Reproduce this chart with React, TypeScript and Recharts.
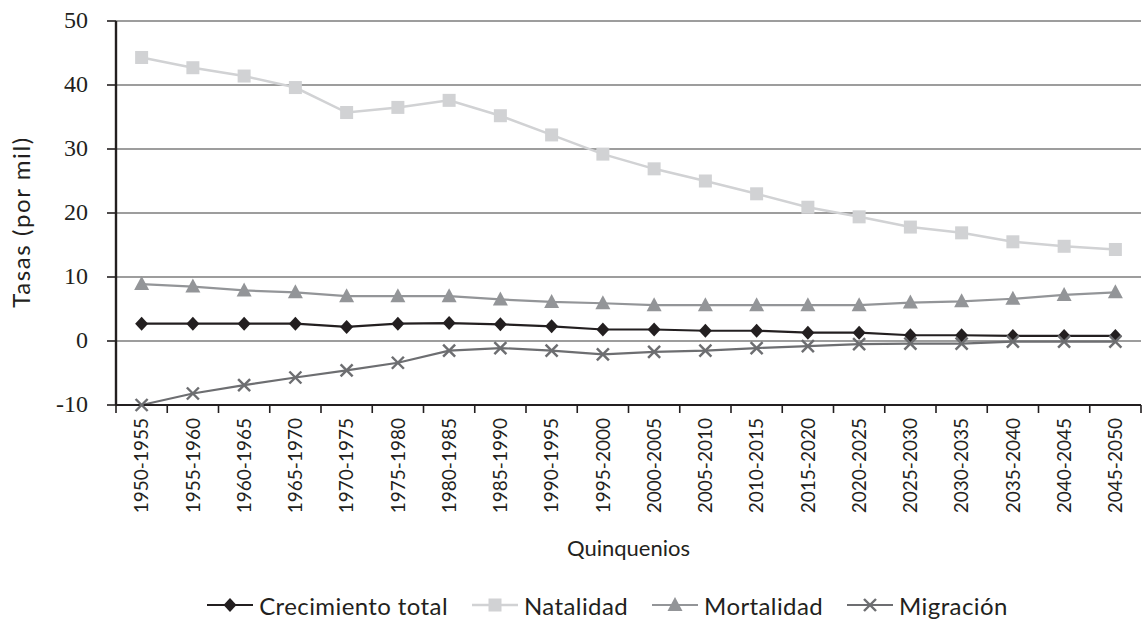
import React from "react";
import { CartesianGrid, Label, Legend, Line, LineChart, XAxis, YAxis } from "recharts";

const periods = [
  "1950-1955", "1955-1960", "1960-1965", "1965-1970", "1970-1975",
  "1975-1980", "1980-1985", "1985-1990", "1990-1995", "1995-2000",
  "2000-2005", "2005-2010", "2010-2015", "2015-2020", "2020-2025",
  "2025-2030", "2030-2035", "2035-2040", "2040-2045", "2045-2050",
];
const crecimiento = [2.7, 2.7, 2.7, 2.7, 2.2, 2.7, 2.8, 2.6, 2.3, 1.8, 1.8, 1.6, 1.6, 1.3, 1.3, 0.9, 0.9, 0.8, 0.8, 0.8];
const natalidad = [44.3, 42.7, 41.4, 39.6, 35.7, 36.5, 37.6, 35.2, 32.2, 29.2, 26.9, 25.0, 23.0, 20.9, 19.4, 17.8, 16.9, 15.5, 14.8, 14.3];
const mortalidad = [8.9, 8.5, 7.9, 7.6, 7.0, 7.0, 7.0, 6.5, 6.1, 5.9, 5.6, 5.6, 5.6, 5.6, 5.6, 6.0, 6.2, 6.6, 7.2, 7.6];
const migracion = [-10.0, -8.2, -6.9, -5.7, -4.6, -3.4, -1.5, -1.1, -1.5, -2.1, -1.7, -1.5, -1.1, -0.8, -0.5, -0.4, -0.4, -0.1, -0.1, -0.1];
const yTicks = [-10, 0, 10, 20, 30, 40, 50];

const data = periods.map((p, i) => ({
  periodo: p,
  crecimiento: crecimiento[i],
  natalidad: natalidad[i],
  mortalidad: mortalidad[i],
  migracion: migracion[i],
}));

const W = 1144;
const H = 621;
const Y_AXIS_W = 116;
const RIGHT = 3;
const BAND = (W - Y_AXIS_W - RIGHT) / periods.length;

const INK = "#231f20";
const SANS = "Lato, 'Open Sans', sans-serif";
const SERIF = "'Liberation Serif', serif";

const C_CREC = "#231f20";
const C_NAT = "#d1d2d4";
const C_MORT = "#939598";
const C_MIG = "#6d6e71";

type MarkProps = { cx: number; cy: number; color: string };

const Diamond = ({ cx, cy, color }: MarkProps) => (
  <polygon
    points={`${cx},${cy - 7} ${cx + 6.5},${cy} ${cx},${cy + 7} ${cx - 6.5},${cy}`}
    fill={color}
  />
);
const Square = ({ cx, cy, color }: MarkProps) => (
  <rect x={cx - 6.5} y={cy - 6.5} width={13} height={13} fill={color} />
);
const Triangle = ({ cx, cy, color }: MarkProps) => (
  <polygon
    points={`${cx},${cy - 8} ${cx + 7.5},${cy + 6} ${cx - 7.5},${cy + 6}`}
    fill={color}
  />
);
const Cross = ({ cx, cy, color }: MarkProps) => (
  <g stroke={color} strokeWidth={2.4}>
    <line x1={cx - 6} y1={cy - 6} x2={cx + 6} y2={cy + 6} />
    <line x1={cx - 6} y1={cy + 6} x2={cx + 6} y2={cy - 6} />
  </g>
);

const series = [
  { key: "crecimiento", name: "Crecimiento total", color: C_CREC, Mark: Diamond, width: 2.2 },
  { key: "natalidad", name: "Natalidad", color: C_NAT, Mark: Square, width: 2.5 },
  { key: "mortalidad", name: "Mortalidad", color: C_MORT, Mark: Triangle, width: 2.2 },
  { key: "migracion", name: "Migración", color: C_MIG, Mark: Cross, width: 2.2 },
];

const XTick = (props: any) => {
  const { x, y, payload, index } = props;
  return (
    <g>
      {index === 0 && (
        <line x1={x - BAND / 2} y1={y} x2={x - BAND / 2} y2={y + 8} stroke={INK} strokeWidth={1.6} />
      )}
      <line x1={x + BAND / 2} y1={y} x2={x + BAND / 2} y2={y + 8} stroke={INK} strokeWidth={1.6} />
      <text
        x={x}
        y={y + 13}
        dy="0.36em"
        transform={`rotate(-90, ${x}, ${y + 13})`}
        textAnchor="end"
        style={{ fontFamily: SANS, fontSize: 19 }}
        fill={INK}
      >
        {payload.value}
      </text>
    </g>
  );
};

const YTick = (props: any) => {
  const { x, y, payload } = props;
  return (
    <text
      x={x}
      y={y}
      dy="0.3em"
      textAnchor="end"
      style={{ fontFamily: SERIF, fontSize: 24 }}
      fill={INK}
    >
      {payload.value}
    </text>
  );
};

const YTitle = (props: any) => {
  const { x, y, height } = props.viewBox;
  const cx = x + 22;
  const cy = y + height / 2 + 9;
  return (
    <text
      x={cx}
      y={cy}
      dy="0.35em"
      transform={`rotate(-90, ${cx}, ${cy})`}
      textAnchor="middle"
      style={{ fontFamily: SANS, fontSize: 24, letterSpacing: 1.6 }}
      fill={INK}
    >
      Tasas (por mil)
    </text>
  );
};

const XTitle = (props: any) => {
  const { x, y, width } = props.viewBox;
  return (
    <text
      x={x + width / 2}
      y={y + 143}
      dy="0.35em"
      textAnchor="middle"
      style={{ fontFamily: SANS, fontSize: 22 }}
      fill={INK}
    >
      Quinquenios
    </text>
  );
};

const renderLegend = () => (
  <div
    style={{
      display: "flex",
      justifyContent: "center",
      alignItems: "center",
      height: 32,
      paddingLeft: 98,
      fontFamily: SANS,
      color: INK,
    }}
  >
    {series.map((s) => (
      <div key={s.key} style={{ display: "flex", alignItems: "center", marginRight: 24 }}>
        <svg width={46} height={20} style={{ marginRight: 6 }}>
          <line x1={0} y1={10} x2={46} y2={10} stroke={s.color} strokeWidth={s.width} />
          <s.Mark cx={23} cy={10} color={s.color} />
        </svg>
        <span style={{ fontSize: 24, fontFamily: SANS, letterSpacing: 0.4 }}>{s.name}</span>
      </div>
    ))}
  </div>
);

export default function App() {
  return (
    <div style={{ width: W, height: H }}>
      <style>{"body{margin:0}"}</style>
      <LineChart width={W} height={H} data={data} margin={{ top: 21, right: RIGHT, bottom: 0, left: 0 }}>
        <CartesianGrid vertical={false} stroke="#3c3c3c" strokeWidth={1.2} />
        <XAxis
          dataKey="periodo"
          interval={0}
          height={184}
          padding={{ left: BAND / 2, right: BAND / 2 }}
          tickLine={false}
          tickSize={0}
          tickMargin={0}
          axisLine={{ stroke: INK, strokeWidth: 2 }}
          tick={<XTick />}
        >
          <Label content={<XTitle />} />
        </XAxis>
        <YAxis
          domain={[-10, 50]}
          ticks={yTicks}
          interval={0}
          width={Y_AXIS_W}
          tickSize={9}
          tickMargin={19}
          tickLine={{ stroke: INK, strokeWidth: 1.6 }}
          axisLine={{ stroke: INK, strokeWidth: 2.4 }}
          tick={<YTick />}
        >
          <Label content={<YTitle />} />
        </YAxis>
        <YAxis
          yAxisId="borde"
          orientation="right"
          domain={[-10, 50]}
          width={0}
          tick={false}
          tickLine={false}
          axisLine={{ stroke: "#3c3c3c", strokeWidth: 1.6 }}
        />
        <Legend verticalAlign="bottom" height={32} content={renderLegend} />
        {series.map((s) => (
          <Line
            key={s.key}
            dataKey={s.key}
            name={s.name}
            type="linear"
            stroke={s.color}
            strokeWidth={s.width}
            isAnimationActive={false}
            dot={(p: any) => <s.Mark key={`${s.key}-${p.index}`} cx={p.cx} cy={p.cy} color={s.color} />}
            activeDot={false}
          />
        ))}
      </LineChart>
    </div>
  );
}
